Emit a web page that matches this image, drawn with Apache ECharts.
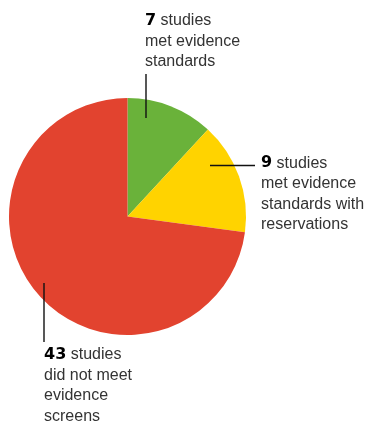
<!DOCTYPE html>
<html>
<head>
<meta charset="utf-8">
<script src="https://cdn.jsdelivr.net/npm/echarts@6/dist/echarts.min.js"></script>
<style>
html,body{margin:0;padding:0;background:#fff;}
#c{width:368px;height:422px;}
</style>
</head>
<body>
<div id="c"></div>
<script>
const categories = ['met evidence standards', 'met evidence standards with reservations', 'did not meet evidence screens'];
const values = [7, 9, 43];
const labelTexts = [
  ['studies', 'met evidence', 'standards'],
  ['studies', 'met evidence', 'standards with', 'reservations'],
  ['studies', 'did not meet', 'evidence', 'screens']
];
const colors = ['#6AB23A', '#FFD300', '#E2432F'];

const labelPos = [
  {x: 145, y: 10.5, line: [[146, 74], [146, 118]]},
  {x: 261, y: 153, line: [[210, 165.5], [255, 165.5]]},
  {x: 44, y: 344.5, line: [[44, 283], [44, 342]]}
];

const chart = echarts.init(document.getElementById('c'));
chart.setOption({
  animation: false,
  graphic: labelPos.map(lp => ({
    type: 'line',
    z: 100,
    silent: true,
    shape: {x1: lp.line[0][0], y1: lp.line[0][1], x2: lp.line[1][0], y2: lp.line[1][1]},
    style: {stroke: '#111', lineWidth: 1.4}
  })),
  series: [{
    type: 'pie',
    center: [127.5, 216.5],
    radius: 118.5,
    startAngle: 90,
    clockwise: true,
    avoidLabelOverlap: false,
    silent: true,
    data: categories.map((c, i) => ({
      name: c,
      value: values[i],
      itemStyle: {color: colors[i]}
    })),
    label: {
      show: true,
      position: 'outside',
      fontFamily: 'Liberation Sans, Arial, sans-serif',
      fontSize: 16,
      lineHeight: 20.5,
      color: '#333',
      formatter: p => {
        const t = labelTexts[p.dataIndex];
        return '{b|' + values[p.dataIndex] + '} ' + t.join('\n');
      },
      rich: {
        b: {
          fontFamily: 'DejaVu Sans, sans-serif',
          fontWeight: 'bold',
          fontSize: 16,
          lineHeight: 20.5,
          color: '#000'
        }
      }
    },
    labelLine: {show: false},
    labelLayout: p => {
      const lp = labelPos[p.dataIndex];
      return {
        x: lp.x,
        y: lp.y,
        align: 'left',
        verticalAlign: 'top'
      };
    }
  }]
});
</script>
</body>
</html>
